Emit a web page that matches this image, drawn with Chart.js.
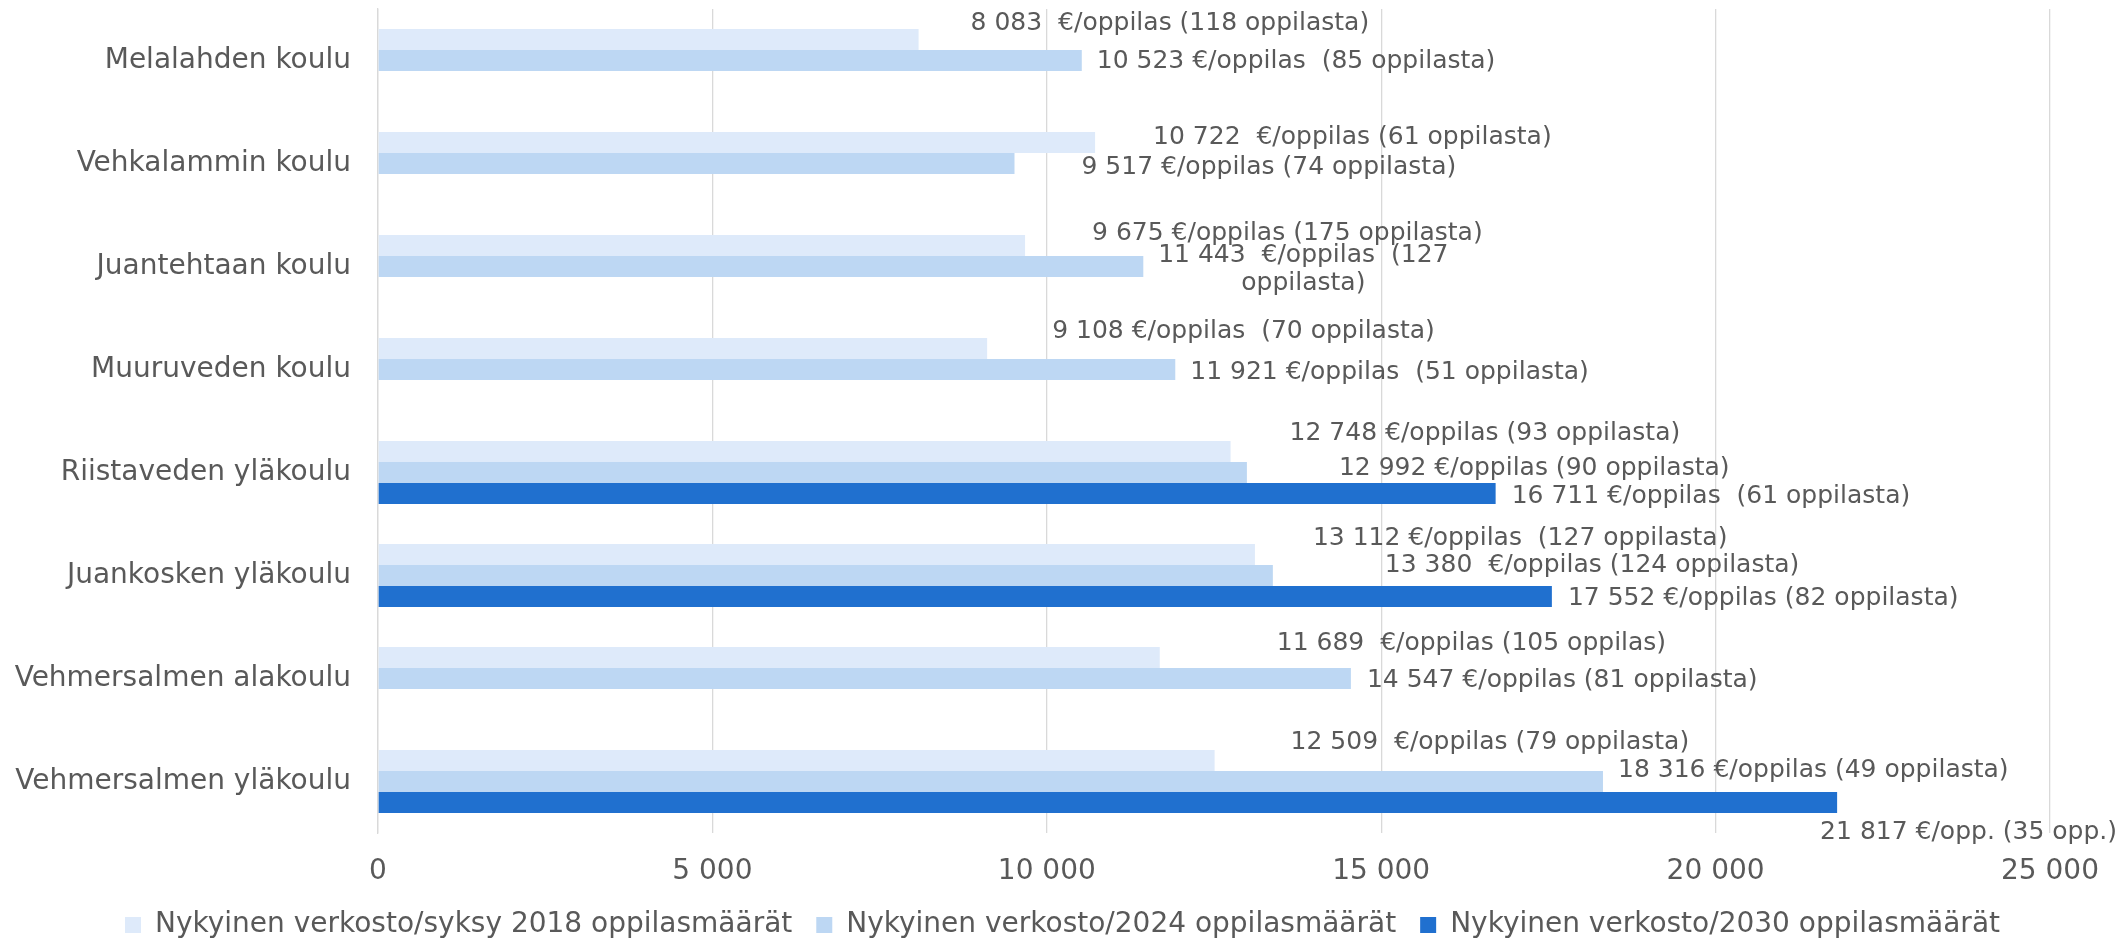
<!DOCTYPE html>
<html>
<head>
<meta charset="utf-8">
<script src="https://cdn.jsdelivr.net/npm/chart.js"></script>
<style>
  body { margin: 0; background: #fff; }
  canvas { display: block; }
</style>
</head>
<body>
<canvas id="chart" width="2125" height="942"></canvas>
<script>
// Schools (categories)
const schools = [
    'Melalahden koulu',
    'Vehkalammin koulu',
    'Juantehtaan koulu',
    'Muuruveden koulu',
    'Riistaveden yläkoulu',
    'Juankosken yläkoulu',
    'Vehmersalmen alakoulu',
    'Vehmersalmen yläkoulu'
];

const seriesNames = [
    'Nykyinen verkosto/syksy 2018 oppilasmäärät',
    'Nykyinen verkosto/2024 oppilasmäärät',
    'Nykyinen verkosto/2030 oppilasmäärät'
];

// €/oppilas values
const cost2018 = [8083, 10722, 9675, 9108, 12748, 13112, 11689, 12509];
const cost2024 = [10523, 9517, 11443, 11921, 12992, 13380, 14547, 18316];
const cost2030 = [null, null, null, null, 16711, 17552, null, 21817];

// data label texts
const labels2018 = [
    '8 083  €/oppilas (118 oppilasta)',
    '10 722  €/oppilas (61 oppilasta)',
    '9 675 €/oppilas (175 oppilasta)',
    '9 108 €/oppilas  (70 oppilasta)',
    '12 748 €/oppilas (93 oppilasta)',
    '13 112 €/oppilas  (127 oppilasta)',
    '11 689  €/oppilas (105 oppilas)',
    '12 509  €/oppilas (79 oppilasta)'
];
const labels2024 = [
    '10 523 €/oppilas  (85 oppilasta)',
    '9 517 €/oppilas (74 oppilasta)',
    ['11 443  €/oppilas  (127', 'oppilasta)'],
    '11 921 €/oppilas  (51 oppilasta)',
    '12 992 €/oppilas (90 oppilasta)',
    '13 380  €/oppilas (124 oppilasta)',
    '14 547 €/oppilas (81 oppilasta)',
    '18 316 €/oppilas (49 oppilasta)'
];
const labels2030 = [null, null, null, null,
    '16 711 €/oppilas  (61 oppilasta)',
    '17 552 €/oppilas (82 oppilasta)',
    null,
    '21 817 €/opp. (35 opp.)'
];

// x-axis ticks
const xTicks = [0, 5000, 10000, 15000, 20000, 25000];

// label nudges [dx, dy] from the bar end (hand-placed labels in the original)
const nudge2018 = [[52, -16], [58, -5], [67, -12], [65, -17], [59, -18], [58, -16], [117, -14], [76, -18]];
const nudge2024 = [[15, 1], [67, 4], [160, 3], [15, 3], [92, -4], [112, -10], [16, 2], [15, -11]];
const nudge2030 = [null, null, null, null, [16, 3], [16, 2], null, [-17, 30]];

const colors = ['rgb(222, 234, 250)', 'rgb(189, 215, 243)', 'rgb(32, 112, 207)'];
const textColor = '#595959';
const gridColor = '#d9d9d9';
const FONT = "'DejaVu Sans', Verdana, sans-serif";

function fmt(v) {
    return String(v).replace(/\B(?=(\d{3})+(?!\d))/g, ' ');
}

const dataLabelPlugin = {
    id: 'dataLabels',
    afterDatasetsDraw(chart) {
        const ctx = chart.ctx;
        const allLabels = [labels2018, labels2024, labels2030];
        const allNudges = [nudge2018, nudge2024, nudge2030];
        ctx.save();
        ctx.font = `25px ${FONT}`;
        ctx.fillStyle = textColor;
        ctx.textBaseline = 'middle';
        chart.data.datasets.forEach((ds, i) => {
            const meta = chart.getDatasetMeta(i);
            meta.data.forEach((bar, j) => {
                const label = allLabels[i][j];
                if (!label || ds.data[j] == null) return;
                const [dx, dy] = allNudges[i][j] || [15, 0];
                const lines = Array.isArray(label) ? label : [label];
                const lh = 28;
                ctx.textAlign = lines.length > 1 ? 'center' : 'left';
                const y0 = bar.y + dy - (lines.length - 1) * lh / 2;
                lines.forEach((line, k) => {
                    ctx.fillText(line, bar.x + dx, y0 + k * lh);
                });
            });
        });
        ctx.restore();
    }
};

// fixed sizes for the vertical axes, no extra label padding
function fixWidth(w) {
    return (scale) => {
        scale.width = w;
        scale.paddingTop = 0;
        scale.paddingBottom = 0;
    };
}

new Chart(document.getElementById('chart'), {
    type: 'bar',
    data: {
        labels: schools,
        datasets: [
            { label: seriesNames[0], data: cost2018, backgroundColor: colors[0] },
            { label: seriesNames[1], data: cost2024, backgroundColor: colors[1] },
            { label: seriesNames[2], data: cost2030, backgroundColor: colors[2] }
        ]
    },
    options: {
        indexAxis: 'y',
        responsive: false,
        animation: false,
        events: [],
        datasets: {
            bar: {
                categoryPercentage: 0.612,
                barPercentage: 1.0
            }
        },
        layout: {
            padding: { top: 9, right: 0, left: 0, bottom: 0 }
        },
        scales: {
            x: {
                min: 0,
                max: 25000,
                afterBuildTicks: (scale) => {
                    scale.ticks = xTicks.map(v => ({ value: v }));
                },
                afterFit: (scale) => { scale.height = 54; },
                ticks: {
                    color: textColor,
                    font: { family: FONT, size: 28 },
                    padding: 22,
                    callback: (v) => fmt(v)
                },
                grid: {
                    color: gridColor,
                    lineWidth: 1.3,
                    drawTicks: false
                },
                border: { display: false }
            },
            y: {
                afterFit: fixWidth(378),
                ticks: {
                    color: textColor,
                    font: { family: FONT, size: 28 },
                    padding: 27
                },
                grid: { display: false, drawTicks: false },
                border: { display: true, color: gridColor, width: 1.3 }
            },
            // empty right-hand spacer so the legend stays centred on the page
            yRight: {
                type: 'category',
                position: 'right',
                afterFit: fixWidth(75),
                ticks: { display: false },
                grid: { display: false, drawTicks: false },
                border: { display: false }
            }
        },
        plugins: {
            legend: {
                position: 'bottom',
                maxHeight: 55,
                labels: {
                    color: textColor,
                    font: { family: FONT, size: 28 },
                    boxWidth: 16,
                    boxHeight: 16,
                    padding: 24
                }
            },
            tooltip: { enabled: false },
            title: { display: false }
        }
    },
    plugins: [dataLabelPlugin]
});
</script>
</body>
</html>
